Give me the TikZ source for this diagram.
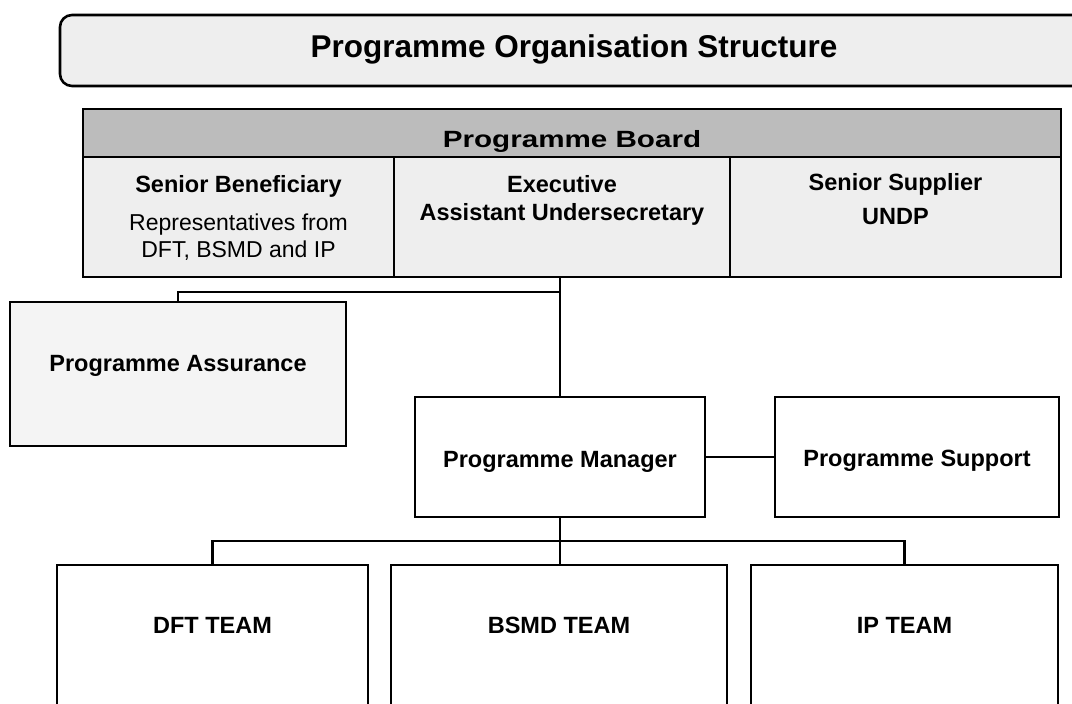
\documentclass[tikz,border=0pt]{standalone}
\usepackage{fontspec}
\setmainfont{Liberation Sans}
\usepackage{graphicx}
\definecolor{boardgray}{RGB}{188,188,188}
\definecolor{paper}{RGB}{238,238,238}
\definecolor{lightpaper}{RGB}{244,244,244}

\begin{document}
\begin{tikzpicture}[x=1pt,y=-1pt,
		box/.style={draw,line width=2.6pt,inner sep=0pt,outer sep=0pt},
		bold/.style={font=\fontsize{23.5}{27}\selectfont\bfseries,anchor=base},
		plain/.style={font=\fontsize{23}{27}\selectfont,anchor=base},
		link/.style={line width=2.2pt}]
		\useasboundingbox (0,0) rectangle (1072,704);
		\clip (0,0) rectangle (1072,704);
		\fill[white] (0,0) rectangle (1072,704);
		\coordinate (split) at (560,292);
		% title banner
		\node[box,fill=paper,rounded corners=12pt,minimum width=1030,minimum height=71] (title) at (575,50.5) {};
		\node[font=\fontsize{31.5}{36}\selectfont\bfseries,anchor=base] (titletxt) at (574,57) {Programme Organisation Structure};
		% board with its three seats
		\node[box,fill=boardgray,minimum width=978,minimum height=48] (board) at (572,133) {};
		\node[box,fill=paper,minimum width=311,minimum height=120] (benef) at (238.5,217) {};
		\node[box,fill=paper,minimum width=336,minimum height=120] (exec) at (562,217) {};
		\node[box,fill=paper,minimum width=331,minimum height=120] (supplier) at (895.5,217) {};
		\node[bold] (boardtxt) at (572,147) {\scalebox{1.26}[1]{Programme Board}};
		\node[bold] (beneftxt) at (238.5,192) {Senior Beneficiary};
		\node[plain] (reps1) at (238.5,230) {Representatives from};
		\node[plain] (reps2) at (238.5,257) {DFT, BSMD and IP};
		\node[bold] (exectxt) at (562,192) {Executive};
		\node[bold] (auxtxt) at (562,220) {Assistant Undersecretary};
		\node[bold] (suppliertxt) at (895.5,190) {Senior Supplier};
		\node[bold] (undptxt) at (895.5,224) {UNDP};
		% management level
		\node[box,fill=lightpaper,minimum width=336,minimum height=144] (assure) at (178,374) {};
		\node[bold] (assuretxt) at (178,371) {Programme Assurance};
		\node[box,fill=white,minimum width=290,minimum height=120] (mgr) at (560,457) {};
		\node[bold] (mgrtxt) at (560,467) {Programme Manager};
		\node[box,fill=white,minimum width=284,minimum height=120] (support) at (917,457) {};
		\node[bold] (supporttxt) at (917,466) {Programme Support};
		% teams, cut by the page edge
		\node[box,fill=white,minimum width=311,minimum height=200] (dft) at (212.5,665) {};
		\node[box,fill=white,minimum width=336,minimum height=200] (bsmd) at (559,665) {};
		\node[box,fill=white,minimum width=307,minimum height=200] (ip) at (904.5,665) {};
		\node[bold] (dfttxt) at (212.5,633) {DFT TEAM};
		\node[bold] (bsmdtxt) at (559,633) {BSMD TEAM};
		\node[bold] (iptxt) at (904.5,633) {IP TEAM};

		\draw[link] (mgr.north |- exec.south) -- (mgr.north);
		\draw[link] (split) -| (assure.north);
		\draw[link] (mgr.east) -- (support.west);
		\draw[link] (mgr.south) -- (mgr.south |- bsmd.north);
		\draw[link] (dft.north) -- ++(0,-24) -| (ip.north);
	\end{tikzpicture}
\end{document}
